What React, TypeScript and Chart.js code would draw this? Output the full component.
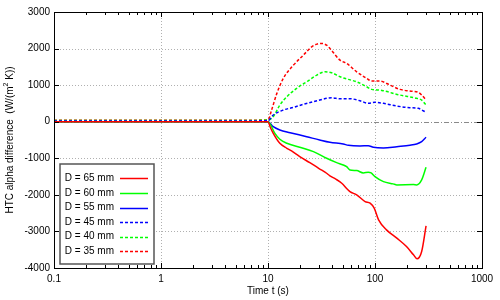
import React, { useEffect, useRef } from "react";
import { Chart, registerables } from "chart.js";

Chart.register(...registerables);

// ---- data ----
const xTickValues = [0.1, 1, 10, 100, 1000];
const xTickLabels = ["0.1", "1", "10", "100", "1000"];
const yTickValues = [3000, 2000, 1000, 0, -1000, -2000, -3000, -4000];

const t65 = [0.1, 1, 5, 10, 10.5, 11.2, 12.9, 15.0, 16.6, 19.8, 24.6, 26.6, 30, 35.3, 37.9, 43, 48.9, 55.2, 58.3, 67.4, 80.8, 90, 98.3, 108, 128, 160, 197, 229, 247, 273, 300];
const v65 = [0, 0, 0, 0, -150, -317, -590, -727, -800, -955, -1120, -1182, -1280, -1409, -1480, -1570, -1682, -1846, -1911, -2001, -2184, -2228, -2364, -2684, -2957, -3183, -3413, -3640, -3750, -3549, -2847];

const t60 = [0.1, 1, 5, 10, 11.6, 12.9, 15.0, 19.8, 26.6, 35.3, 43.8, 50.5, 54.3, 58.3, 67.4, 77.8, 86.5, 92, 100, 120, 148, 160, 229, 245, 273, 300];
const v60 = [0, 0, 0, 0, -317, -480, -590, -699, -819, -1000, -1119, -1182, -1228, -1319, -1337, -1400, -1380, -1400, -1500, -1637, -1700, -1728, -1720, -1728, -1592, -1245];

const t55 = [0.1, 1, 5, 10, 11.2, 12.9, 16.1, 23, 30.4, 37.9, 50.5, 56.3, 72.4, 86.5, 96.5, 120, 160, 212, 245, 273, 300];
const v55 = [0, 0, 0, 0, -137, -227, -300, -410, -500, -563, -609, -644, -663, -655, -699, -718, -682, -644, -609, -546, -426];

const t45 = [0.1, 1, 5, 10, 11.2, 13.9, 17.3, 21.4, 28.7, 35.3, 39.4, 47.1, 58.3, 72.4, 86.5, 100, 120, 160, 212, 254, 273, 300];
const v45 = [20, 20, 20, 30, 183, 320, 393, 475, 573, 639, 655, 628, 628, 573, 502, 530, 502, 429, 382, 366, 320, 257];

const t40 = [0.1, 1, 5, 10, 11.2, 12.9, 15.0, 18.5, 23.0, 28.6, 34.1, 39.4, 47.1, 56.3, 67.4, 83.6, 93, 111, 120, 171, 245, 273, 300];
const v40 = [30, 30, 30, 50, 137, 456, 683, 912, 1092, 1275, 1365, 1338, 1229, 1157, 1092, 956, 884, 865, 846, 729, 639, 592, 456];

const t35 = [0.1, 1, 5, 10, 10.8, 12.1, 13.9, 17.3, 21.4, 25.6, 28.7, 31.6, 35.3, 37.9, 47.1, 54.3, 67.4, 83.6, 93, 111, 138, 171, 212, 254, 273, 300];
const v35 = [40, 40, 40, 50, 320, 775, 1185, 1548, 1821, 2048, 2121, 2140, 2094, 2004, 1684, 1594, 1365, 1185, 1111, 1111, 1002, 884, 838, 802, 729, 592];

const seriesLabels = ["D = 65 mm", "D = 60 mm", "D = 55 mm", "D = 45 mm", "D = 40 mm", "D = 35 mm"];
const seriesTimes = [t65, t60, t55, t45, t40, t35];
const seriesValues = [v65, v60, v55, v45, v40, v35];
const seriesColors = ["#ff0000", "#00ff00", "#0000ff", "#0000ff", "#00ff00", "#ff0000"];
const seriesDashed = [false, false, false, true, true, true];

const FONT = "'Liberation Sans', Arial, sans-serif";

const gnuplotPlugin = {
  id: "gnuplotDecor",
  beforeDatasetsDraw(chart: any) {
    const { ctx, chartArea, scales } = chart;
    const { left, right, top, bottom } = chartArea;
    const x = scales.x, y = scales.y;
    ctx.save();
    ctx.strokeStyle = "#b0b0b0";
    ctx.lineWidth = 1;
    ctx.setLineDash([1, 2]);
    for (const v of xTickValues) {
      const px = Math.round(x.getPixelForValue(v)) + 0.5;
      if (px <= left + 1 || px >= right - 1) continue;
      ctx.beginPath(); ctx.moveTo(px, top); ctx.lineTo(px, bottom); ctx.stroke();
    }
    for (const v of yTickValues) {
      if (v === 0) continue;
      const py = Math.round(y.getPixelForValue(v)) + 0.5;
      if (py <= top + 1 || py >= bottom - 1) continue;
      ctx.beginPath(); ctx.moveTo(left, py); ctx.lineTo(right, py); ctx.stroke();
    }
    // zero axis
    ctx.strokeStyle = "#8a8a8a";
    ctx.setLineDash([5, 2, 1, 2]);
    const pz = Math.round(y.getPixelForValue(0)) + 0.5;
    ctx.beginPath(); ctx.moveTo(left, pz); ctx.lineTo(right, pz); ctx.stroke();
    ctx.restore();
  },
  afterDatasetsDraw(chart: any) {
    const { ctx, chartArea, scales } = chart;
    const { left, right, top, bottom } = chartArea;
    const x = scales.x, y = scales.y;
    ctx.save();
    ctx.setLineDash([]);
    ctx.strokeStyle = "#000";
    ctx.lineWidth = 1;
    // ticks
    const major = 5, minor = 3;
    ctx.beginPath();
    for (let d = -1; d < 3; d++) {
      for (let m = 1; m <= 9; m++) {
        const v = m * Math.pow(10, d);
        const px = Math.round(x.getPixelForValue(v)) + 0.5;
        const len = m === 1 ? major : minor;
        ctx.moveTo(px, bottom); ctx.lineTo(px, bottom - len);
        ctx.moveTo(px, top); ctx.lineTo(px, top + len);
      }
    }
    for (const v of yTickValues) {
      const py = Math.round(y.getPixelForValue(v)) + 0.5;
      ctx.moveTo(left, py); ctx.lineTo(left + major, py);
      ctx.moveTo(right, py); ctx.lineTo(right - major, py);
    }
    ctx.stroke();
    // frame
    ctx.strokeRect(Math.round(left) + 0.5, Math.round(top) + 0.5, Math.round(right - left), Math.round(bottom - top));

    // legend
    const bx = 60, by = 164, bw = 94, bh = 100;
    ctx.fillStyle = "#fff";
    ctx.fillRect(bx, by, bw, bh);
    ctx.strokeStyle = "#555";
    ctx.lineWidth = 1.5;
    ctx.strokeRect(bx, by, bw, bh);
    ctx.font = `10px ${FONT}`;
    ctx.fillStyle = "#000";
    ctx.textAlign = "right";
    ctx.textBaseline = "middle";
    for (let i = 0; i < seriesLabels.length; i++) {
      const ry = 178.3 + i * 14.6;
      ctx.fillText(seriesLabels[i], 114, ry);
      ctx.strokeStyle = seriesColors[i];
      ctx.lineWidth = 1.5;
      ctx.setLineDash(seriesDashed[i] ? [3, 2] : []);
      ctx.beginPath(); ctx.moveTo(120, Math.round(ry) + 0.5); ctx.lineTo(148, Math.round(ry) + 0.5); ctx.stroke();
    }
    ctx.setLineDash([]);

    // axis titles
    ctx.fillStyle = "#000";
    ctx.textAlign = "center";
    ctx.textBaseline = "middle";
    ctx.font = `10px ${FONT}`;
    ctx.fillText("Time t (s)", (left + right) / 2, 291);

    ctx.save();
    ctx.translate(10, (top + bottom) / 2);
    ctx.rotate(-Math.PI / 2);
    const p1 = "HTC alpha difference  (W/(m";
    const p2 = "2";
    const p3 = " K))";
    ctx.font = `10px ${FONT}`;
    const w1 = ctx.measureText(p1).width;
    const w3 = ctx.measureText(p3).width;
    ctx.font = `7px ${FONT}`;
    const w2 = ctx.measureText(p2).width;
    let sx = -(w1 + w2 + w3) / 2;
    ctx.textAlign = "left";
    ctx.font = `10px ${FONT}`;
    ctx.fillText(p1, sx, 0);
    sx += w1;
    ctx.font = `7px ${FONT}`;
    ctx.fillText(p2, sx, -4);
    sx += w2;
    ctx.font = `10px ${FONT}`;
    ctx.fillText(p3, sx, 0);
    ctx.restore();

    ctx.restore();
  },
};

export default function App() {
  const ref = useRef<HTMLCanvasElement | null>(null);
  useEffect(() => {
    document.body.style.margin = "0";
    const canvas = ref.current;
    if (!canvas) return;
    const datasets = seriesLabels.map((label, i) => ({
      label,
      data: seriesTimes[i].map((t, k) => ({ x: t, y: seriesValues[i][k] })),
      borderColor: seriesColors[i],
      backgroundColor: seriesColors[i],
      borderWidth: 1.5,
      borderDash: seriesDashed[i] ? [3, 2] : [],
      pointRadius: 0,
      cubicInterpolationMode: "monotone" as const,
      fill: false,
    }));
    const chart = new Chart(canvas, {
      type: "line",
      data: { datasets },
      plugins: [gnuplotPlugin],
      options: {
        animation: false,
        responsive: false,
        maintainAspectRatio: false,
        devicePixelRatio: 1,
        layout: { padding: { left: 0, top: 12, right: 18, bottom: 0 } },
        plugins: { legend: { display: false }, tooltip: { enabled: false }, title: { display: false } },
        scales: {
          x: {
            type: "logarithmic",
            min: 0.1,
            max: 1000,
            afterBuildTicks: (s: any) => { s.ticks = xTickValues.map((v) => ({ value: v })); },
            afterFit: (s: any) => { s.height = 32; },
            grid: { display: false, drawTicks: false },
            border: { display: false },
            ticks: {
              autoSkip: false,
              maxRotation: 0,
              padding: 5,
              color: "#000",
              font: { family: FONT, size: 10 },
              callback: (v: any) => {
                const i = xTickValues.indexOf(Number(v));
                return i >= 0 ? xTickLabels[i] : "";
              },
            },
          },
          y: {
            type: "linear",
            min: -4000,
            max: 3000,
            afterBuildTicks: (s: any) => { s.ticks = yTickValues.map((v) => ({ value: v })); },
            afterFit: (s: any) => { s.width = 54; },
            grid: { display: false, drawTicks: false },
            border: { display: false },
            ticks: {
              padding: 4,
              color: "#000",
              font: { family: FONT, size: 10 },
              callback: (v: any) => String(v),
            },
          },
        },
      },
    });
    return () => chart.destroy();
  }, []);
  return (
    <div style={{ position: "absolute", left: 0, top: 0, width: 500, height: 300, background: "#fff" }}>
      <canvas ref={ref} width={500} height={300} style={{ width: 500, height: 300 }} />
    </div>
  );
}
